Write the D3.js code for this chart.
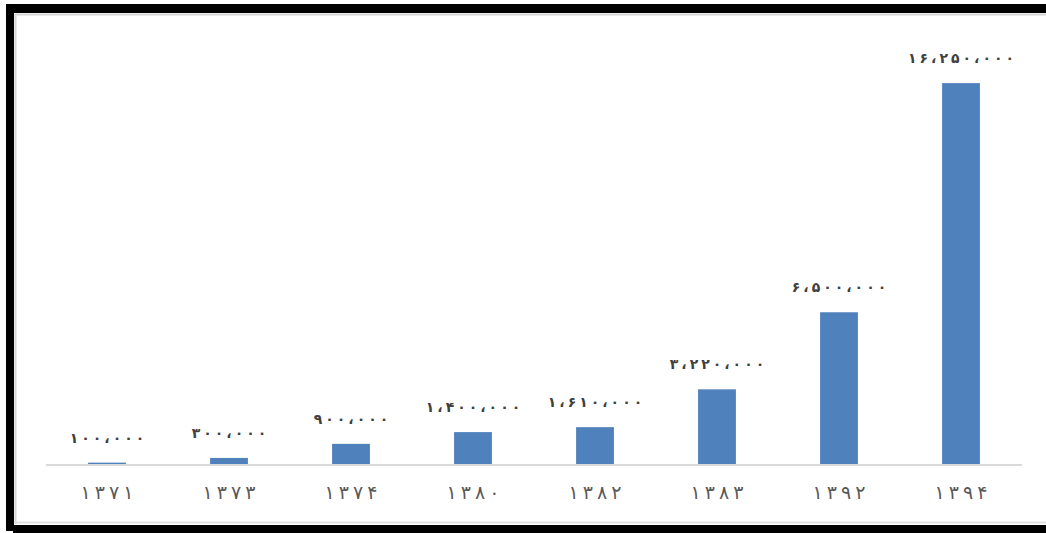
<!DOCTYPE html>
<html>
<head>
<meta charset="utf-8">
<script src="https://cdn.jsdelivr.net/npm/d3@7"></script>
<style>
  html, body { margin: 0; padding: 0; background: #fff; }
  svg { display: block; }
</style>
</head>
<body>
<script>
// Years (Solar Hijri) and values
const years = [1371, 1373, 1374, 1380, 1382, 1383, 1392, 1394];
const values = [100000, 300000, 900000, 1400000, 1610000, 3220000, 6500000, 16250000];
const yMax = 18000000;

const W = 1046, H = 533;
const persianDigits = "۰۱۲۳۴۵۶۷۸۹";
const toPersian = s => String(s).replace(/[0-9]/g, d => persianDigits[+d]).replace(/,/g, "،");
const fmt = d3.format(",");

// Spread glyphs apart with per-character tspans (letter-spacing is not applied to Arabic script)
function spaced(sel, str, gap) {
  sel.text(null);
  Array.from(str).forEach((ch, i) => {
    sel.append("tspan").attr("dx", i ? gap : 0).text(ch);
  });
}

const svg = d3.select("body").append("svg").attr("width", W).attr("height", H);

// Frame: dark outer border with a thin light inner edge
svg.append("rect").attr("x", 0).attr("y", 0).attr("width", W).attr("height", H).attr("fill", "#fff");
svg.append("rect").attr("x", 6).attr("y", 4).attr("width", W).attr("height", 9).attr("fill", "#000");
svg.append("rect").attr("x", 6).attr("y", 4).attr("width", 8).attr("height", 527).attr("fill", "#000");
svg.append("rect").attr("x", 13).attr("y", 525).attr("width", W).attr("height", 8).attr("fill", "#000");
svg.append("line").attr("x1", 15).attr("x2", W).attr("y1", 14.5).attr("y2", 14.5).attr("stroke", "#d6d6d6").attr("stroke-width", 2);
svg.append("line").attr("x1", 15.5).attr("x2", 15.5).attr("y1", 14).attr("y2", 524).attr("stroke", "#d6d6d6").attr("stroke-width", 2);
svg.append("line").attr("x1", 15).attr("x2", W).attr("y1", 522.5).attr("y2", 522.5).attr("stroke", "#e0e0e0").attr("stroke-width", 2);

const x = d3.scaleBand().domain(years).range([46, 1022]).paddingInner(0.69).paddingOuter(0.345);
const y = d3.scaleLinear().domain([0, yMax]).range([465, 42]);

const data = years.map((yr, i) => ({ yr, v: values[i] }));

// Bars
svg.append("g").selectAll("rect").data(data).join("rect")
  .attr("x", d => x(d.yr))
  .attr("y", d => y(d.v))
  .attr("width", x.bandwidth())
  .attr("height", d => y(0) - y(d.v))
  .attr("fill", "#4f81bd");

// Baseline axis with category labels
const axis = svg.append("g").attr("transform", `translate(0,${y(0)})`)
  .call(d3.axisBottom(x).tickSize(0).tickPadding(0).tickFormat(d => toPersian(d)));
axis.select(".domain").attr("stroke", "#d9d9d9").attr("stroke-width", 2).attr("d", "M46,0H1022");
axis.selectAll("text")
  .attr("dy", 0)
  .attr("y", 34)
  .attr("font-family", "DejaVu Sans")
  .attr("font-size", 19)
  .attr("fill", "#595959")
  .each(function (d) { spaced(d3.select(this), toPersian(d), 4); });

// Value labels above bars
svg.append("g").selectAll("text").data(data).join("text")
  .attr("x", d => x(d.yr) + x.bandwidth() / 2)
  .attr("y", d => y(d.v) - 20)
  .attr("text-anchor", "middle")
  .attr("font-family", "DejaVu Sans")
  .attr("font-size", 14)
  .attr("font-weight", "bold")
  .attr("fill", "#404040")
  .each(function (d) { spaced(d3.select(this), toPersian(fmt(d.v)), 3); });
</script>
</body>
</html>
